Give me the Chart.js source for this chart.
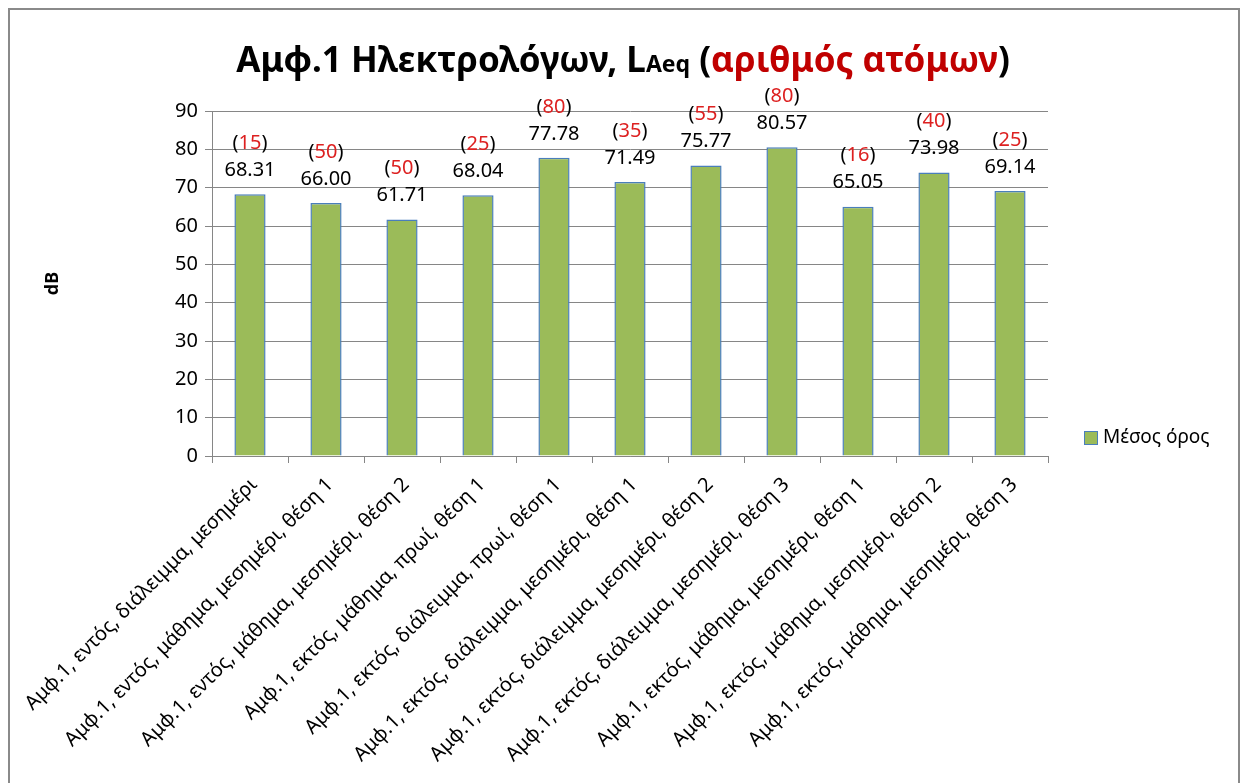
<!DOCTYPE html>
<html>
<head>
<meta charset="utf-8">
<script src="https://cdn.jsdelivr.net/npm/chart.js@4.4.0/dist/chart.umd.min.js"></script>
<style>
    html, body { margin: 0; padding: 0; background: #fff; overflow: hidden; }
    #wrap { position: relative; width: 1243px; height: 783px; }
    #frame { position: absolute; left: 8px; top: 8px; width: 1228px; height: 800px; border: 2px solid #8a8a8a; border-bottom: none; }
    #canvas { position: absolute; left: 0; top: 0; }
</style>
</head>
<body>
<div id="wrap">
    <div id="frame"></div>
    <canvas id="canvas" width="1243" height="783"></canvas>
</div>
<script>
    var categories = [
        'Αμφ.1, εντός, διάλειμμα, μεσημέρι',
        'Αμφ.1, εντός, μάθημα, μεσημέρι, θέση 1',
        'Αμφ.1, εντός, μάθημα, μεσημέρι, θέση 2',
        'Αμφ.1, εκτός, μάθημα, πρωί, θέση 1',
        'Αμφ.1, εκτός, διάλειμμα, πρωί, θέση 1',
        'Αμφ.1, εκτός, διάλειμμα, μεσημέρι, θέση 1',
        'Αμφ.1, εκτός, διάλειμμα, μεσημέρι, θέση 2',
        'Αμφ.1, εκτός, διάλειμμα, μεσημέρι, θέση 3',
        'Αμφ.1, εκτός, μάθημα, μεσημέρι, θέση 1',
        'Αμφ.1, εκτός, μάθημα, μεσημέρι, θέση 2',
        'Αμφ.1, εκτός, μάθημα, μεσημέρι, θέση 3'
    ];
    var meanValues = [68.31, 66.00, 61.71, 68.04, 77.78, 71.49, 75.77, 80.57, 65.05, 73.98, 69.14];
    var personCounts = [15, 50, 50, 25, 80, 35, 55, 80, 16, 40, 25];
    var seriesLabel = 'Μέσος όρος';
    var yAxisTitle = 'dB';
    var titleParts = [
        { text: 'Αμφ.1 Ηλεκτρολόγων, L', small: false, color: '#000000' },
        { text: 'Aeq', small: true, color: '#000000' },
        { text: ' (', small: false, color: '#000000' },
        { text: 'αριθμός ατόμων', small: false, color: '#c00000' },
        { text: ')', small: false, color: '#000000' }
    ];

    var FONT = "'Noto Sans', 'Open Sans', sans-serif";
    var GRID = '#868686';

    // title with the subscript and the red part, drawn on the canvas
    var titlePlugin = {
        id: 'richTitle',
        afterDraw: function (chart) {
            var ctx = chart.ctx;
            var big = 'bold 35px ' + FONT;
            var small = 'bold 23px ' + FONT;
            ctx.save();
            var total = 0;
            titleParts.forEach(function (p) {
                ctx.font = p.small ? small : big;
                p.w = ctx.measureText(p.text).width;
                total += p.w;
            });
            var x = 623 - total / 2;
            var baseline = 72;
            ctx.textBaseline = 'alphabetic';
            ctx.textAlign = 'left';
            titleParts.forEach(function (p) {
                ctx.font = p.small ? small : big;
                ctx.fillStyle = p.color;
                ctx.fillText(p.text, x, baseline);
                x += p.w;
            });
            ctx.restore();
        }
    };

    // value + (number of persons) above every bar
    var barLabelsPlugin = {
        id: 'barLabels',
        afterDatasetsDraw: function (chart) {
            var ctx = chart.ctx;
            var meta = chart.getDatasetMeta(0);
            ctx.save();
            ctx.font = '20px ' + FONT;
            ctx.textBaseline = 'middle';
            ctx.textAlign = 'left';
            meta.data.forEach(function (bar, i) {
                var value = chart.data.datasets[0].data[i].toFixed(2);
                var vw = ctx.measureText(value).width;
                ctx.fillStyle = '#000000';
                ctx.fillText(value, bar.x - vw / 2, bar.y - 24);

                var parts = [['(', '#000000'], [String(personCounts[i]), '#dd2020'], [')', '#000000']];
                var w = 0;
                parts.forEach(function (p) { w += ctx.measureText(p[0]).width; });
                var x = bar.x - w / 2;
                parts.forEach(function (p) {
                    ctx.fillStyle = p[1];
                    ctx.fillText(p[0], x, bar.y - 51);
                    x += ctx.measureText(p[0]).width;
                });
            });
            ctx.restore();
        }
    };

    // legend entry to the right of the plot
    var legendPlugin = {
        id: 'sideLegend',
        afterDraw: function (chart) {
            var ctx = chart.ctx;
            var ds = chart.data.datasets[0];
            ctx.save();
            ctx.fillStyle = ds.backgroundColor;
            ctx.fillRect(1084, 431, 13, 13);
            ctx.strokeStyle = ds.borderColor;
            ctx.lineWidth = 1;
            ctx.strokeRect(1084.5, 431.5, 13, 13);
            ctx.font = '19px ' + FONT;
            ctx.fillStyle = '#000000';
            ctx.textBaseline = 'middle';
            ctx.fillText(ds.label, 1103, 438);
            ctx.restore();
        }
    };

    var ctx = document.getElementById('canvas').getContext('2d');

    var myBarChart = new Chart(ctx, {
        type: 'bar',
        data: {
            labels: categories,
            datasets: [
                {
                    label: seriesLabel,
                    data: meanValues,
                    backgroundColor: '#9bbb59',
                    borderColor: '#4a7ebb',
                    borderWidth: 1.5,
                    barPercentage: 0.41,
                    categoryPercentage: 1
                }
            ]
        },
        options: {
            responsive: false,
            animation: false,
            layout: {
                padding: { top: 111, left: 30, right: 195, bottom: 0 }
            },
            plugins: {
                legend: { display: false },
                title: { display: false },
                tooltip: { enabled: false }
            },
            scales: {
                x: {
                    grid: { drawOnChartArea: false, drawTicks: true, tickLength: 7, color: GRID, offset: true },
                    border: { color: GRID },
                    ticks: {
                        minRotation: 45,
                        maxRotation: 45,
                        autoSkip: false,
                        padding: 10,
                        labelOffset: 4,
                        color: '#000000',
                        font: { family: FONT, size: 20 }
                    },
                    afterFit: function (scale) { scale.height = 783 - 456; }
                },
                y: {
                    min: 0,
                    max: 90,
                    grid: { color: GRID, tickLength: 7 },
                    border: { color: GRID },
                    ticks: {
                        stepSize: 10,
                        padding: 7,
                        color: '#000000',
                        font: { family: FONT, size: 20 }
                    },
                    title: {
                        display: true,
                        text: yAxisTitle,
                        color: '#000000',
                        padding: { top: 12, bottom: 0 },
                        font: { family: FONT, size: 18, weight: 'bold' }
                    },
                    afterFit: function (scale) { scale.width = 212 - 30; }
                }
            }
        },
        plugins: [barLabelsPlugin, titlePlugin, legendPlugin]
    });
</script>
</body>
</html>
